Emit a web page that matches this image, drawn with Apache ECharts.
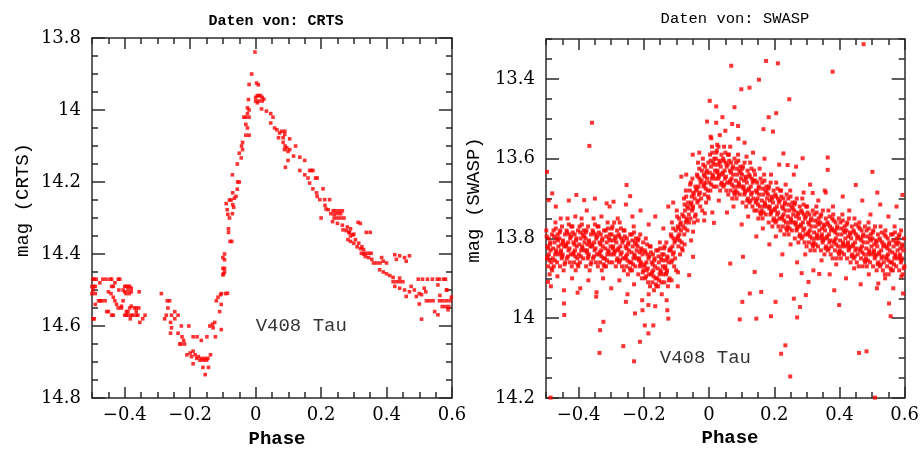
<!DOCTYPE html>
<html>
<head>
<meta charset="utf-8">
<script src="https://cdn.jsdelivr.net/npm/echarts@6/dist/echarts.min.js"></script>
<style>html,body{margin:0;padding:0;background:#fff}#c{width:922px;height:449px}</style>
</head>
<body>
<div id="c"></div>
<script>
// ---------- axis ticks ----------
const phaseMajor = [-0.4, -0.2, 0, 0.2, 0.4, 0.6];
const phaseRange = [-0.5, 0.6];
const crtsMagRange = [13.8, 14.8];
const crtsMagMajor = [13.8, 14, 14.2, 14.4, 14.6, 14.8];
const swaspMagRange = [13.3, 14.2];
const swaspMagMajor = [13.4, 13.6, 13.8, 14, 14.2];
const minorStep = 0.05;

// ---------- texts ----------
const titles = ['Daten von: CRTS', 'Daten von: SWASP'];
const yNames = ['mag (CRTS)', 'mag (SWASP)'];
const xName = 'Phase';
const starName = 'V408 Tau';
const crtsLabelPos = [[0, 14.6]];
const swaspLabelPos = [[-0.151, 14.1]];

// ---------- CRTS data [phase, mag] ----------
const crtsQuiescent = [
[-0.497,14.47],[-0.493,14.47],[-0.487,14.47],[-0.467,14.47],[-0.457,14.47],[-0.445,14.47],[-0.44,14.47],[-0.42,14.47],[-0.415,14.47],
[-0.476,14.48],[-0.43,14.48],
[-0.5,14.49],[-0.495,14.49],[-0.49,14.49],[-0.44,14.49],[-0.435,14.49],[-0.4,14.49],[-0.395,14.49],[-0.39,14.49],[-0.385,14.49],[-0.38,14.495],
[-0.497,14.5],[-0.45,14.505],[-0.418,14.5],[-0.405,14.5],[-0.4,14.505],[-0.39,14.5],[-0.38,14.505],[-0.356,14.505],
[-0.5,14.51],[-0.49,14.51],[-0.442,14.51],[-0.396,14.51],[-0.386,14.51],
[-0.435,14.52],
[-0.48,14.53],[-0.475,14.53],[-0.47,14.53],[-0.46,14.53],[-0.43,14.53],[-0.405,14.53],
[-0.49,14.54],[-0.425,14.54],[-0.41,14.545],
[-0.42,14.55],[-0.41,14.55],[-0.385,14.55],[-0.38,14.545],[-0.37,14.55],[-0.365,14.55],[-0.357,14.55],
[-0.455,14.56],[-0.45,14.56],[-0.395,14.56],[-0.39,14.56],[-0.365,14.56],
[-0.44,14.57],[-0.435,14.57],[-0.4,14.57],[-0.395,14.57],[-0.39,14.57],[-0.38,14.57],[-0.375,14.57],[-0.365,14.57],[-0.36,14.57],[-0.338,14.57],
[-0.497,14.58],[-0.493,14.58],[-0.383,14.58],[-0.354,14.59],[-0.345,14.58]
];
const crtsDip = [
[-0.288,14.51],[-0.27,14.53],[-0.263,14.53],[-0.268,14.55],[-0.247,14.56],[-0.257,14.57],[-0.273,14.57],[-0.278,14.58],[-0.26,14.59],[-0.247,14.58],
[-0.237,14.57],[-0.227,14.6],[-0.257,14.605],[-0.26,14.62],[-0.237,14.62],[-0.225,14.63],[-0.22,14.64],[-0.217,14.65],[-0.228,14.65],[-0.232,14.65],
[-0.204,14.6],[-0.191,14.63],[-0.179,14.63],[-0.166,14.64],[-0.149,14.63],[-0.123,14.63],
[-0.21,14.68],[-0.2,14.675],[-0.191,14.67],[-0.196,14.685],[-0.185,14.68],[-0.18,14.69],[-0.175,14.685],[-0.17,14.695],[-0.165,14.69],[-0.16,14.695],
[-0.155,14.69],[-0.15,14.695],[-0.146,14.69],[-0.138,14.68],[-0.191,14.705],[-0.161,14.715],[-0.144,14.715],[-0.154,14.735],
[-0.14,14.6],[-0.132,14.595],[-0.125,14.59],[-0.13,14.605],[-0.105,14.61],[-0.12,14.53],[-0.115,14.52],[-0.11,14.56],[-0.105,14.54],[-0.105,14.51],
[-0.092,14.51],[-0.1,14.44],[-0.098,14.455]
];
const crtsRise = [
[-0.107,14.513],[-0.086,14.509],[-0.1,14.458],[-0.095,14.45],[-0.095,14.44],[-0.095,14.416],[-0.1,14.41],[-0.095,14.4],[-0.078,14.365],[-0.073,14.365],
[-0.083,14.34],[-0.083,14.33],[-0.08,14.3],[-0.071,14.288],[-0.087,14.277],[-0.07,14.263],[-0.075,14.25],[-0.08,14.25],[-0.06,14.24],[-0.065,14.245],
[-0.085,14.29],[-0.09,14.26],[-0.07,14.23],[-0.067,14.27],
[-0.056,14.22],[-0.05,14.2],[-0.055,14.2],[-0.071,14.18],[-0.056,14.15],[-0.044,14.133],[-0.05,14.12],[-0.04,14.11],[-0.043,14.1],[-0.04,14.09],
[-0.03,14.07],[-0.02,14.07],[-0.025,14.05],[-0.03,14.04],[-0.036,14.02],[-0.03,14.02],[-0.02,14.02],[-0.025,14.01],[-0.02,14.0],[-0.025,13.994],
[-0.022,13.971],[-0.02,13.929],[-0.012,13.9],[-0.002,13.839],[0.003,13.925],[0.008,13.93],[0.0,13.965],[0.005,13.96],[0.01,13.96],[0.015,13.96],
[0.02,13.965],[0.0,13.975],[0.025,13.97],[0.005,13.98],[0.01,13.975],[0.02,13.975]
];
const crtsDecline = [
[0.018,13.997],[0.033,14.003],[0.046,14.01],[0.053,14.02],[0.046,14.036],[0.058,14.05],[0.065,14.055],[0.073,14.064],[0.079,14.059],[0.089,14.059],
[0.089,14.068],[0.07,14.077],[0.084,14.077],[0.104,14.08],[0.084,14.09],[0.09,14.1],[0.095,14.105],[0.099,14.115],[0.088,14.11],[0.122,14.1],
[0.104,14.11],[0.099,14.14],[0.116,14.128],[0.135,14.131],[0.15,14.14],[0.091,14.159],[0.135,14.168],[0.165,14.168],[0.17,14.168],[0.175,14.168],
[0.15,14.18],[0.16,14.189],[0.183,14.189],[0.188,14.189],[0.165,14.203],[0.175,14.219],[0.206,14.219],[0.186,14.23],[0.188,14.24],[0.196,14.249],
[0.211,14.249],[0.226,14.249],[0.212,14.265],[0.215,14.275],[0.222,14.277],[0.237,14.28],[0.245,14.28],[0.255,14.28],[0.265,14.28],[0.23,14.288],
[0.24,14.29],[0.25,14.288],[0.26,14.288],[0.24,14.3],[0.25,14.3],[0.26,14.3],[0.27,14.3],[0.2,14.3],[0.235,14.31],[0.25,14.315],
[0.265,14.32],[0.28,14.325],[0.29,14.33],[0.313,14.312],[0.32,14.315],[0.285,14.34],[0.3,14.345],[0.29,14.35],[0.305,14.36],[0.315,14.37],
[0.325,14.38],[0.33,14.4],
[0.267,14.333],[0.277,14.335],[0.287,14.34],[0.297,14.347],[0.338,14.34],[0.35,14.34],[0.282,14.36],[0.29,14.365],[0.3,14.37],[0.31,14.38],
[0.32,14.385],[0.33,14.388],[0.323,14.398],[0.335,14.398],[0.345,14.398],[0.353,14.398],[0.335,14.407],[0.345,14.41],[0.355,14.415],[0.36,14.425],
[0.37,14.425],[0.38,14.425],[0.39,14.42],[0.4,14.425],[0.385,14.41],[0.425,14.402],[0.44,14.405],[0.455,14.41],[0.47,14.405],[0.43,14.415],
[0.46,14.42],[0.379,14.444],[0.39,14.45],[0.4,14.455],[0.41,14.46],[0.42,14.465],[0.44,14.467],[0.42,14.477],[0.43,14.477],[0.44,14.477],
[0.45,14.477],[0.425,14.49],[0.44,14.495],[0.455,14.5],[0.47,14.505],[0.485,14.5],[0.5,14.51],[0.507,14.513],[0.475,14.49],[0.497,14.47],
[0.51,14.47],[0.525,14.47],[0.54,14.47],[0.555,14.47],[0.562,14.47],[0.575,14.47],[0.58,14.47],[0.557,14.486],[0.583,14.5],[0.46,14.518],
[0.491,14.518],[0.522,14.53],[0.532,14.53],[0.542,14.53],[0.562,14.53],[0.572,14.53],[0.583,14.53],[0.5,14.539],[0.57,14.546],[0.58,14.546],
[0.59,14.546],[0.547,14.56],[0.557,14.569],[0.507,14.581],[0.588,14.555],[0.594,14.53],[0.584,14.5],[0.563,14.515],[0.598,14.52],[0.515,14.495],
[0.52,14.505]
];

// ---------- SWASP data [phase, mag] ----------
const swaspCore = [
[-0.499,13.78],[-0.497,13.85],[-0.496,13.82],[-0.494,13.87],[-0.492,13.80],[-0.491,13.84],[-0.489,13.89],[-0.487,13.81],[-0.486,13.83],[-0.484,13.86],[-0.482,13.79],[-0.481,13.88],
[-0.479,13.85],[-0.477,13.78],[-0.476,13.87],[-0.474,13.81],[-0.472,13.84],[-0.471,13.76],[-0.469,13.83],[-0.467,13.80],[-0.466,13.86],[-0.464,13.79],[-0.462,13.82],[-0.461,13.84],
[-0.459,13.80],[-0.457,13.87],[-0.456,13.78],[-0.454,13.83],[-0.452,13.85],[-0.451,13.77],[-0.449,13.84],[-0.447,13.81],[-0.446,13.88],[-0.444,13.82],[-0.442,13.79],[-0.441,13.86],
[-0.439,13.82],[-0.437,13.78],[-0.436,13.85],[-0.434,13.75],[-0.432,13.81],[-0.431,13.83],[-0.429,13.79],[-0.427,13.86],[-0.426,13.80],[-0.424,13.84],[-0.422,13.77],[-0.421,13.87],
[-0.419,13.77],[-0.417,13.84],[-0.416,13.81],[-0.414,13.86],[-0.412,13.79],[-0.411,13.83],[-0.409,13.88],[-0.407,13.80],[-0.406,13.82],[-0.404,13.85],[-0.402,13.78],[-0.401,13.87],
[-0.399,13.84],[-0.397,13.77],[-0.396,13.86],[-0.394,13.80],[-0.392,13.83],[-0.391,13.75],[-0.389,13.82],[-0.387,13.79],[-0.386,13.85],[-0.384,13.78],[-0.382,13.81],[-0.381,13.83],
[-0.379,13.80],[-0.377,13.87],[-0.376,13.78],[-0.374,13.83],[-0.372,13.85],[-0.371,13.77],[-0.369,13.84],[-0.367,13.81],[-0.366,13.88],[-0.364,13.82],[-0.362,13.79],[-0.361,13.86],
[-0.359,13.82],[-0.357,13.78],[-0.356,13.85],[-0.354,13.75],[-0.352,13.81],[-0.351,13.83],[-0.349,13.79],[-0.347,13.86],[-0.346,13.80],[-0.344,13.84],[-0.342,13.77],[-0.341,13.87],
[-0.339,13.77],[-0.337,13.84],[-0.336,13.81],[-0.334,13.86],[-0.332,13.79],[-0.331,13.83],[-0.329,13.88],[-0.327,13.80],[-0.326,13.82],[-0.324,13.85],[-0.322,13.78],[-0.321,13.87],
[-0.319,13.85],[-0.317,13.78],[-0.316,13.87],[-0.314,13.81],[-0.312,13.84],[-0.311,13.76],[-0.309,13.83],[-0.307,13.80],[-0.306,13.86],[-0.304,13.79],[-0.302,13.82],[-0.301,13.84],
[-0.299,13.79],[-0.297,13.86],[-0.296,13.77],[-0.294,13.82],[-0.292,13.84],[-0.291,13.76],[-0.289,13.83],[-0.287,13.80],[-0.286,13.87],[-0.284,13.81],[-0.282,13.78],[-0.281,13.85],
[-0.279,13.83],[-0.277,13.79],[-0.276,13.86],[-0.274,13.76],[-0.272,13.82],[-0.271,13.84],[-0.269,13.80],[-0.267,13.87],[-0.266,13.81],[-0.264,13.85],[-0.262,13.78],[-0.261,13.88],
[-0.259,13.78],[-0.257,13.85],[-0.256,13.82],[-0.254,13.87],[-0.252,13.80],[-0.251,13.84],[-0.249,13.89],[-0.247,13.81],[-0.246,13.83],[-0.244,13.86],[-0.242,13.79],[-0.241,13.88],
[-0.239,13.86],[-0.237,13.79],[-0.236,13.88],[-0.234,13.82],[-0.232,13.85],[-0.231,13.77],[-0.229,13.84],[-0.227,13.81],[-0.226,13.87],[-0.224,13.80],[-0.222,13.83],[-0.221,13.85],
[-0.219,13.82],[-0.217,13.89],[-0.216,13.80],[-0.214,13.85],[-0.212,13.87],[-0.211,13.79],[-0.209,13.86],[-0.207,13.83],[-0.206,13.90],[-0.204,13.84],[-0.202,13.81],[-0.201,13.88],
[-0.199,13.87],[-0.197,13.83],[-0.196,13.90],[-0.194,13.80],[-0.192,13.86],[-0.191,13.88],[-0.189,13.84],[-0.187,13.91],[-0.186,13.85],[-0.184,13.89],[-0.182,13.82],[-0.181,13.92],
[-0.179,13.82],[-0.177,13.89],[-0.176,13.86],[-0.174,13.91],[-0.172,13.84],[-0.171,13.88],[-0.169,13.93],[-0.167,13.85],[-0.166,13.87],[-0.164,13.90],[-0.162,13.83],[-0.161,13.92],
[-0.159,13.90],[-0.157,13.83],[-0.156,13.92],[-0.154,13.86],[-0.152,13.89],[-0.151,13.81],[-0.149,13.88],[-0.147,13.85],[-0.146,13.91],[-0.144,13.84],[-0.142,13.87],[-0.141,13.89],
[-0.139,13.84],[-0.137,13.91],[-0.136,13.82],[-0.134,13.87],[-0.132,13.89],[-0.131,13.81],[-0.129,13.88],[-0.127,13.85],[-0.126,13.92],[-0.124,13.86],[-0.122,13.83],[-0.121,13.90],
[-0.119,13.83],[-0.117,13.79],[-0.116,13.86],[-0.114,13.76],[-0.112,13.82],[-0.111,13.84],[-0.109,13.80],[-0.107,13.87],[-0.106,13.81],[-0.104,13.85],[-0.102,13.78],[-0.101,13.88],
[-0.099,13.73],[-0.097,13.80],[-0.096,13.77],[-0.094,13.82],[-0.092,13.75],[-0.091,13.79],[-0.089,13.84],[-0.087,13.76],[-0.086,13.78],[-0.084,13.81],[-0.082,13.74],[-0.081,13.83],
[-0.079,13.77],[-0.077,13.70],[-0.076,13.79],[-0.074,13.73],[-0.072,13.76],[-0.071,13.68],[-0.069,13.75],[-0.067,13.72],[-0.066,13.78],[-0.064,13.71],[-0.062,13.74],[-0.061,13.76],
[-0.059,13.68],[-0.057,13.75],[-0.056,13.66],[-0.054,13.71],[-0.052,13.73],[-0.051,13.65],[-0.049,13.72],[-0.047,13.69],[-0.046,13.76],[-0.044,13.70],[-0.042,13.67],[-0.041,13.74],
[-0.039,13.68],[-0.037,13.64],[-0.036,13.71],[-0.034,13.61],[-0.032,13.67],[-0.031,13.69],[-0.029,13.65],[-0.027,13.72],[-0.026,13.66],[-0.024,13.70],[-0.022,13.63],[-0.021,13.73],
[-0.019,13.60],[-0.017,13.67],[-0.016,13.64],[-0.014,13.69],[-0.012,13.62],[-0.011,13.66],[-0.009,13.71],[-0.007,13.63],[-0.006,13.65],[-0.004,13.68],[-0.002,13.61],[-0.001,13.70],
[0.001,13.66],[0.003,13.59],[0.004,13.68],[0.006,13.62],[0.008,13.65],[0.009,13.57],[0.011,13.64],[0.013,13.61],[0.014,13.67],[0.016,13.60],[0.018,13.63],[0.019,13.65],
[0.021,13.60],[0.023,13.67],[0.024,13.58],[0.026,13.63],[0.028,13.65],[0.029,13.57],[0.031,13.64],[0.033,13.61],[0.034,13.68],[0.036,13.62],[0.038,13.59],[0.039,13.66],
[0.041,13.64],[0.043,13.60],[0.044,13.67],[0.046,13.57],[0.048,13.63],[0.049,13.65],[0.051,13.61],[0.053,13.68],[0.054,13.62],[0.056,13.66],[0.058,13.59],[0.059,13.69],
[0.061,13.59],[0.063,13.66],[0.064,13.63],[0.066,13.68],[0.068,13.61],[0.069,13.65],[0.071,13.70],[0.073,13.62],[0.074,13.64],[0.076,13.67],[0.078,13.60],[0.079,13.69],
[0.081,13.68],[0.083,13.61],[0.084,13.70],[0.086,13.64],[0.088,13.67],[0.089,13.59],[0.091,13.66],[0.093,13.63],[0.094,13.69],[0.096,13.62],[0.098,13.65],[0.099,13.67],
[0.101,13.64],[0.103,13.71],[0.104,13.62],[0.106,13.67],[0.108,13.69],[0.109,13.61],[0.111,13.68],[0.113,13.65],[0.114,13.72],[0.116,13.66],[0.118,13.63],[0.119,13.70],
[0.121,13.68],[0.123,13.64],[0.124,13.71],[0.126,13.61],[0.128,13.67],[0.129,13.69],[0.131,13.65],[0.133,13.72],[0.134,13.66],[0.136,13.70],[0.138,13.63],[0.139,13.73],
[0.141,13.64],[0.143,13.71],[0.144,13.68],[0.146,13.73],[0.148,13.66],[0.149,13.70],[0.151,13.75],[0.153,13.67],[0.154,13.69],[0.156,13.72],[0.158,13.65],[0.159,13.74],
[0.161,13.73],[0.163,13.66],[0.164,13.75],[0.166,13.69],[0.168,13.72],[0.169,13.64],[0.171,13.71],[0.173,13.68],[0.174,13.74],[0.176,13.67],[0.178,13.70],[0.179,13.72],
[0.181,13.69],[0.183,13.76],[0.184,13.67],[0.186,13.72],[0.188,13.74],[0.189,13.66],[0.191,13.73],[0.193,13.70],[0.194,13.77],[0.196,13.71],[0.198,13.68],[0.199,13.75],
[0.201,13.73],[0.203,13.69],[0.204,13.76],[0.206,13.66],[0.208,13.72],[0.209,13.74],[0.211,13.70],[0.213,13.77],[0.214,13.71],[0.216,13.75],[0.218,13.68],[0.219,13.78],
[0.221,13.68],[0.223,13.75],[0.224,13.72],[0.226,13.77],[0.228,13.70],[0.229,13.74],[0.231,13.79],[0.233,13.71],[0.234,13.73],[0.236,13.76],[0.238,13.69],[0.239,13.78],
[0.241,13.77],[0.243,13.70],[0.244,13.79],[0.246,13.73],[0.248,13.76],[0.249,13.68],[0.251,13.75],[0.253,13.72],[0.254,13.78],[0.256,13.71],[0.258,13.74],[0.259,13.76],
[0.261,13.73],[0.263,13.80],[0.264,13.71],[0.266,13.76],[0.268,13.78],[0.269,13.70],[0.271,13.77],[0.273,13.74],[0.274,13.81],[0.276,13.75],[0.278,13.72],[0.279,13.79],
[0.281,13.77],[0.283,13.73],[0.284,13.80],[0.286,13.70],[0.288,13.76],[0.289,13.78],[0.291,13.74],[0.293,13.81],[0.294,13.75],[0.296,13.79],[0.298,13.72],[0.299,13.82],
[0.301,13.72],[0.303,13.79],[0.304,13.76],[0.306,13.81],[0.308,13.74],[0.309,13.78],[0.311,13.83],[0.313,13.75],[0.314,13.77],[0.316,13.80],[0.318,13.73],[0.319,13.82],
[0.321,13.81],[0.323,13.74],[0.324,13.83],[0.326,13.77],[0.328,13.80],[0.329,13.72],[0.331,13.79],[0.333,13.76],[0.334,13.82],[0.336,13.75],[0.338,13.78],[0.339,13.80],
[0.341,13.76],[0.343,13.83],[0.344,13.74],[0.346,13.79],[0.348,13.81],[0.349,13.73],[0.351,13.80],[0.353,13.77],[0.354,13.84],[0.356,13.78],[0.358,13.75],[0.359,13.82],
[0.361,13.80],[0.363,13.76],[0.364,13.83],[0.366,13.73],[0.368,13.79],[0.369,13.81],[0.371,13.77],[0.373,13.84],[0.374,13.78],[0.376,13.82],[0.378,13.75],[0.379,13.85],
[0.381,13.74],[0.383,13.81],[0.384,13.78],[0.386,13.83],[0.388,13.76],[0.389,13.80],[0.391,13.85],[0.393,13.77],[0.394,13.79],[0.396,13.82],[0.398,13.75],[0.399,13.84],
[0.401,13.83],[0.403,13.76],[0.404,13.85],[0.406,13.79],[0.408,13.82],[0.409,13.74],[0.411,13.81],[0.413,13.78],[0.414,13.84],[0.416,13.77],[0.418,13.80],[0.419,13.82],
[0.421,13.78],[0.423,13.85],[0.424,13.76],[0.426,13.81],[0.428,13.83],[0.429,13.75],[0.431,13.82],[0.433,13.79],[0.434,13.86],[0.436,13.80],[0.438,13.77],[0.439,13.84],
[0.441,13.82],[0.443,13.78],[0.444,13.85],[0.446,13.75],[0.448,13.81],[0.449,13.83],[0.451,13.79],[0.453,13.86],[0.454,13.80],[0.456,13.84],[0.458,13.77],[0.459,13.87],
[0.461,13.76],[0.463,13.83],[0.464,13.80],[0.466,13.85],[0.468,13.78],[0.469,13.82],[0.471,13.87],[0.473,13.79],[0.474,13.81],[0.476,13.84],[0.478,13.77],[0.479,13.86],
[0.481,13.85],[0.483,13.78],[0.484,13.87],[0.486,13.81],[0.488,13.84],[0.489,13.76],[0.491,13.83],[0.493,13.80],[0.494,13.86],[0.496,13.79],[0.498,13.82],[0.499,13.84],
[0.501,13.80],[0.503,13.87],[0.504,13.78],[0.506,13.83],[0.508,13.85],[0.509,13.77],[0.511,13.84],[0.513,13.81],[0.514,13.88],[0.516,13.82],[0.518,13.79],[0.519,13.86],
[0.521,13.84],[0.523,13.80],[0.524,13.87],[0.526,13.77],[0.528,13.83],[0.529,13.85],[0.531,13.81],[0.533,13.88],[0.534,13.82],[0.536,13.86],[0.538,13.79],[0.539,13.89],
[0.541,13.78],[0.543,13.85],[0.544,13.82],[0.546,13.87],[0.548,13.80],[0.549,13.84],[0.551,13.89],[0.553,13.81],[0.554,13.83],[0.556,13.86],[0.558,13.79],[0.559,13.88],
[0.561,13.86],[0.563,13.79],[0.564,13.88],[0.566,13.82],[0.568,13.85],[0.569,13.77],[0.571,13.84],[0.573,13.81],[0.574,13.87],[0.576,13.80],[0.578,13.83],[0.579,13.85],
[0.581,13.81],[0.583,13.88],[0.584,13.79],[0.586,13.84],[0.588,13.86],[0.589,13.78],[0.591,13.85],[0.593,13.82],[0.594,13.89],[0.596,13.83],[0.598,13.80],[0.599,13.87]
];
const swaspFill = [
[-0.498,13.795],[-0.495,13.845],[-0.493,13.825],[-0.49,13.855],[-0.488,13.815],[-0.483,13.875],
[-0.478,13.825],[-0.475,13.795],[-0.473,13.855],[-0.47,13.775],[-0.468,13.835],[-0.463,13.805],
[-0.458,13.785],[-0.455,13.835],[-0.453,13.815],[-0.45,13.845],[-0.448,13.805],[-0.443,13.865],
[-0.438,13.815],[-0.435,13.785],[-0.433,13.845],[-0.43,13.765],[-0.428,13.825],[-0.423,13.795],
[-0.418,13.785],[-0.415,13.835],[-0.413,13.815],[-0.41,13.845],[-0.408,13.805],[-0.403,13.865],
[-0.398,13.815],[-0.395,13.785],[-0.393,13.845],[-0.39,13.765],[-0.388,13.825],[-0.383,13.795],
[-0.378,13.785],[-0.375,13.835],[-0.373,13.815],[-0.37,13.845],[-0.368,13.805],[-0.363,13.865],
[-0.358,13.815],[-0.355,13.785],[-0.353,13.845],[-0.35,13.765],[-0.348,13.825],[-0.343,13.795],
[-0.338,13.785],[-0.335,13.835],[-0.333,13.815],[-0.33,13.845],[-0.328,13.805],[-0.323,13.865],
[-0.318,13.825],[-0.315,13.795],[-0.313,13.855],[-0.31,13.775],[-0.308,13.835],[-0.303,13.805],
[-0.298,13.775],[-0.295,13.825],[-0.293,13.805],[-0.29,13.835],[-0.288,13.795],[-0.283,13.855],
[-0.278,13.825],[-0.275,13.795],[-0.273,13.855],[-0.27,13.775],[-0.268,13.835],[-0.263,13.805],
[-0.258,13.795],[-0.255,13.845],[-0.253,13.825],[-0.25,13.855],[-0.248,13.815],[-0.243,13.875],
[-0.238,13.835],[-0.235,13.805],[-0.233,13.865],[-0.23,13.785],[-0.228,13.845],[-0.223,13.815],
[-0.218,13.805],[-0.215,13.855],[-0.213,13.835],[-0.21,13.865],[-0.208,13.825],[-0.203,13.885],
[-0.198,13.865],[-0.195,13.835],[-0.193,13.895],[-0.19,13.815],[-0.188,13.875],[-0.183,13.845],
[-0.178,13.835],[-0.175,13.885],[-0.173,13.865],[-0.17,13.895],[-0.168,13.855],[-0.163,13.915],
[-0.158,13.875],[-0.155,13.845],[-0.153,13.905],[-0.15,13.825],[-0.148,13.885],[-0.143,13.855],
[-0.138,13.825],[-0.135,13.875],[-0.133,13.855],[-0.13,13.885],[-0.128,13.845],[-0.123,13.905],
[-0.118,13.825],[-0.115,13.795],[-0.113,13.855],[-0.11,13.775],[-0.108,13.835],[-0.103,13.805],
[-0.098,13.745],[-0.095,13.795],[-0.093,13.775],[-0.09,13.805],[-0.088,13.765],[-0.083,13.825],
[-0.078,13.745],[-0.075,13.715],[-0.073,13.775],[-0.07,13.695],[-0.068,13.755],[-0.063,13.725],
[-0.058,13.665],[-0.055,13.715],[-0.053,13.695],[-0.05,13.725],[-0.048,13.685],[-0.043,13.745],
[-0.038,13.675],[-0.035,13.645],[-0.033,13.705],[-0.03,13.625],[-0.028,13.685],[-0.023,13.655],
[-0.018,13.615],[-0.015,13.665],[-0.013,13.645],[-0.01,13.675],[-0.008,13.635],[-0.003,13.695],
[0.002,13.635],[0.005,13.605],[0.007,13.665],[0.01,13.585],[0.012,13.645],[0.017,13.615],
[0.022,13.585],[0.025,13.635],[0.027,13.615],[0.03,13.645],[0.032,13.605],[0.037,13.665],
[0.042,13.635],[0.045,13.605],[0.047,13.665],[0.05,13.585],[0.052,13.645],[0.057,13.615],
[0.062,13.605],[0.065,13.655],[0.067,13.635],[0.07,13.665],[0.072,13.625],[0.077,13.685],
[0.082,13.655],[0.085,13.625],[0.087,13.685],[0.09,13.605],[0.092,13.665],[0.097,13.635],
[0.102,13.625],[0.105,13.675],[0.107,13.655],[0.11,13.685],[0.112,13.645],[0.117,13.705],
[0.122,13.675],[0.125,13.645],[0.127,13.705],[0.13,13.625],[0.132,13.685],[0.137,13.655],
[0.142,13.655],[0.145,13.705],[0.147,13.685],[0.15,13.715],[0.152,13.675],[0.157,13.735],
[0.162,13.705],[0.165,13.675],[0.167,13.735],[0.17,13.655],[0.172,13.715],[0.177,13.685],
[0.182,13.675],[0.185,13.725],[0.187,13.705],[0.19,13.735],[0.192,13.695],[0.197,13.755],
[0.202,13.725],[0.205,13.695],[0.207,13.755],[0.21,13.675],[0.212,13.735],[0.217,13.705],
[0.222,13.695],[0.225,13.745],[0.227,13.725],[0.23,13.755],[0.232,13.715],[0.237,13.775],
[0.242,13.745],[0.245,13.715],[0.247,13.775],[0.25,13.695],[0.252,13.755],[0.257,13.725],
[0.262,13.715],[0.265,13.765],[0.267,13.745],[0.27,13.775],[0.272,13.735],[0.277,13.795],
[0.282,13.765],[0.285,13.735],[0.287,13.795],[0.29,13.715],[0.292,13.775],[0.297,13.745],
[0.302,13.735],[0.305,13.785],[0.307,13.765],[0.31,13.795],[0.312,13.755],[0.317,13.815],
[0.322,13.785],[0.325,13.755],[0.327,13.815],[0.33,13.735],[0.332,13.795],[0.337,13.765],
[0.342,13.745],[0.345,13.795],[0.347,13.775],[0.35,13.805],[0.352,13.765],[0.357,13.825],
[0.362,13.795],[0.365,13.765],[0.367,13.825],[0.37,13.745],[0.372,13.805],[0.377,13.775],
[0.382,13.755],[0.385,13.805],[0.387,13.785],[0.39,13.815],[0.392,13.775],[0.397,13.835],
[0.402,13.805],[0.405,13.775],[0.407,13.835],[0.41,13.755],[0.412,13.815],[0.417,13.785],
[0.422,13.765],[0.425,13.815],[0.427,13.795],[0.43,13.825],[0.432,13.785],[0.437,13.845],
[0.442,13.815],[0.445,13.785],[0.447,13.845],[0.45,13.765],[0.452,13.825],[0.457,13.795],
[0.462,13.775],[0.465,13.825],[0.467,13.805],[0.47,13.835],[0.472,13.795],[0.477,13.855],
[0.482,13.825],[0.485,13.795],[0.487,13.855],[0.49,13.775],[0.492,13.835],[0.497,13.805],
[0.502,13.785],[0.505,13.835],[0.507,13.815],[0.51,13.845],[0.512,13.805],[0.517,13.865],
[0.522,13.835],[0.525,13.805],[0.527,13.865],[0.53,13.785],[0.532,13.845],[0.537,13.815],
[0.542,13.795],[0.545,13.845],[0.547,13.825],[0.55,13.855],[0.552,13.815],[0.557,13.875],
[0.562,13.835],[0.565,13.805],[0.567,13.865],[0.57,13.785],[0.572,13.845],[0.577,13.815],
[0.582,13.795],[0.585,13.845],[0.587,13.825],[0.59,13.855],[0.592,13.815],[0.597,13.875]
];
const swaspHalo = [
[-0.47,13.72],[-0.455,13.75],[-0.43,13.705],[-0.41,13.745],[-0.375,13.73],[-0.35,13.70],[-0.33,13.745],[-0.305,13.72],[-0.28,13.75],[-0.255,13.715],
[-0.235,13.745],[-0.21,13.73],[-0.185,13.765],[-0.165,13.745],[-0.14,13.775],[-0.125,13.72],[-0.11,13.71],[-0.085,13.645],[-0.07,13.64],[-0.05,13.59],
[-0.03,13.585],[0.005,13.545],[0.025,13.565],[0.05,13.53],[0.065,13.57],[0.09,13.55],[0.115,13.595],[0.135,13.585],[0.155,13.625],[0.17,13.60],
[0.19,13.64],[0.215,13.615],[0.235,13.665],[0.26,13.64],[0.29,13.685],[0.31,13.665],[0.335,13.705],[0.355,13.68],[0.38,13.72],[0.41,13.695],
[0.43,13.73],[0.47,13.705],[0.495,13.74],[0.525,13.715],[0.55,13.745],[0.575,13.72],
[-0.485,13.92],[-0.465,13.895],[-0.445,13.93],[-0.42,13.9],[-0.395,13.925],[-0.37,13.905],[-0.345,13.935],[-0.325,13.9],[-0.3,13.925],[-0.275,13.905],
[-0.25,13.94],[-0.23,13.915],[-0.205,13.955],[-0.185,13.94],[-0.165,13.97],[-0.145,13.94],[-0.13,13.955],[-0.115,13.905],[-0.095,13.885],[-0.075,13.815],
[-0.055,13.805],[-0.035,13.755],[-0.015,13.755],[0.01,13.735],[0.03,13.705],[0.055,13.735],[0.075,13.72],[0.1,13.765],[0.12,13.745],[0.145,13.795],
[0.165,13.775],[0.185,13.815],[0.205,13.795],[0.225,13.84],[0.25,13.815],[0.27,13.86],[0.295,13.84],[0.32,13.88],[0.345,13.855],[0.37,13.89],
[0.39,13.865],[0.42,13.9],[0.445,13.875],[0.465,13.915],[0.49,13.89],[0.515,13.925],[0.54,13.9],[0.565,13.925],[0.59,13.895]
];
const swaspOutliers = [
[0.474,13.313],[0.175,13.355],[0.211,13.361],[0.068,13.367],[0.379,13.382],[0.153,13.402],[0.124,13.422],[0.099,13.426],[0.246,13.451],[0.002,13.455],
[0.022,13.469],[0.078,13.471],[0.206,13.486],[0.183,13.496],[0.041,13.496],[-0.006,13.507],[0.022,13.51],[0.071,13.513],[0.089,13.518],[0.167,13.526],
[0.196,13.532],[-0.359,13.51],[-0.367,13.568],[0.007,13.549],[0.033,13.541],[0.109,13.56],[0.228,13.587],[0.287,13.599],[0.364,13.597],[0.364,13.628],
[0.501,13.633],[0.241,13.616],[0.267,13.62],[-0.253,13.666],[-0.242,13.694],[-0.407,13.691],[-0.383,13.704],[-0.314,13.712],[-0.293,13.708],[0.45,13.666],
[0.516,13.685],[0.593,13.691],[0.358,13.685],[0.318,13.686],[-0.497,13.633],[-0.492,13.704],[-0.481,13.687],
[-0.494,13.909],[-0.445,13.963],[-0.444,13.992],[-0.334,14.03],[-0.324,14.009],[-0.336,14.087],[-0.263,14.07],[-0.23,14.108],[-0.212,14.059],[-0.227,13.988],
[-0.204,13.98],[-0.197,14.018],[-0.186,14.038],[-0.186,13.967],[-0.171,14.018],[-0.125,14.001],[-0.128,13.98],[-0.255,13.959],[-0.346,13.946],[-0.403,13.936],
[-0.049,13.846],[-0.061,13.892],[-0.049,13.783],[-0.013,13.737],[0.015,13.761],[0.065,13.863],[0.104,13.846],[0.14,13.884],[0.125,13.938],[0.102,13.959],
[0.094,14.003],[0.145,14.001],[0.16,13.934],[0.19,13.995],[0.204,13.959],[0.221,13.892],[0.221,14.089],[0.234,14.068],[0.249,14.146],[0.26,13.951],
[0.27,13.998],[0.279,13.972],[0.297,13.942],[0.305,13.909],[0.284,13.887],[0.338,13.889],[0.399,13.967],[0.384,13.93],[0.46,14.087],[0.483,14.083],
[0.509,14.199],[-0.486,14.199],[0.552,13.963],[0.557,13.995],[0.595,13.938],[0.519,13.913],[-0.096,13.92]
];

// ---------- build ----------
const MARK_COLOR = '#ff0000';
const FRAME = '#2a2a2a';
const tickFont = 'DejaVu Serif';
const monoFont = 'Liberation Mono';

function minorValues(lo, hi) {
  const out = [];
  const n = Math.round((hi - lo) / minorStep);
  for (let i = 0; i <= n; i++) out.push(+(lo + i * minorStep).toFixed(3));
  return out;
}
function fmt(v) {
  const s = String(+v.toFixed(2));
  return s.charAt(0) === '-' ? '\u2212' + s.slice(1) : s;
}
const lineStyle = { color: FRAME, width: 1.5 };

function axisSet(dim, grid, range, major, inverse) {
  const minor = minorValues(range[0], range[1]);
  const sides = dim === 'x' ? ['bottom', 'top'] : ['left', 'right'];
  const out = [];
  sides.forEach((side, si) => {
    out.push({
      type: 'value', gridIndex: grid, position: side, min: range[0], max: range[1], inverse: !!inverse,
      axisLine: { show: true, onZero: false, lineStyle },
      axisTick: { show: true, inside: true, length: dim === 'x' ? 11 : 13, customValues: major, lineStyle },
      axisLabel: si === 0 ? {
        show: true, customValues: major, formatter: fmt, color: '#000',
        fontFamily: tickFont, fontSize: 18, margin: dim === 'x' ? 8 : 11
      } : { show: false },
      splitLine: { show: false }
    });
    out.push({
      type: 'value', gridIndex: grid, position: side, min: range[0], max: range[1], inverse: !!inverse,
      axisLine: { show: false, onZero: false },
      axisTick: { show: true, inside: true, length: 6, customValues: minor, lineStyle },
      axisLabel: { show: false },
      splitLine: { show: false }
    });
  });
  return out;
}

const xAxes = [].concat(axisSet('x', 0, phaseRange, phaseMajor), axisSet('x', 1, phaseRange, phaseMajor));
const yAxes = [].concat(axisSet('y', 0, crtsMagRange, crtsMagMajor, true), axisSet('y', 1, swaspMagRange, swaspMagMajor, true));

const crtsData = [].concat(crtsQuiescent, crtsDip, crtsRise, crtsDecline);
const swaspData = [].concat(swaspCore, swaspFill, swaspHalo, swaspOutliers);

const scatterBase = { type: 'scatter', symbol: 'rect', itemStyle: { color: MARK_COLOR }, silent: true, large: false };
const textLabel = {
  show: true, formatter: starName, position: 'inside', align: 'left', verticalAlign: 'middle',
  color: '#000', fontFamily: monoFont, fontSize: 19
};

const option = {
  animation: false,
  backgroundColor: '#fff',
  grid: [
    { left: 92, top: 38, width: 360, height: 360 },
    { left: 546, top: 39, width: 360, height: 359 }
  ],
  xAxis: xAxes,
  yAxis: yAxes,
  series: [
    Object.assign({}, scatterBase, { xAxisIndex: 0, yAxisIndex: 0, symbolSize: 3.6, data: crtsData }),
    Object.assign({}, scatterBase, { xAxisIndex: 4, yAxisIndex: 4, symbolSize: 4, data: swaspData }),
    { type: 'scatter', xAxisIndex: 0, yAxisIndex: 0, symbolSize: 0, data: crtsLabelPos, label: textLabel, silent: true },
    { type: 'scatter', xAxisIndex: 4, yAxisIndex: 4, symbolSize: 0, data: swaspLabelPos, label: textLabel, silent: true }
  ],
  graphic: [
    { type: 'text', x: 276, y: 21, style: { text: titles[0], fontFamily: monoFont, fontWeight: 'bold', fontSize: 15, fill: '#000', align: 'center', verticalAlign: 'middle' } },
    { type: 'text', x: 735, y: 19, style: { text: titles[1], fontFamily: monoFont, fontSize: 15.5, fill: '#000', align: 'center', verticalAlign: 'middle' } },
    { type: 'text', x: 277, y: 439, style: { text: xName, fontFamily: monoFont, fontWeight: 'bold', fontSize: 19, fill: '#000', align: 'center', verticalAlign: 'middle' } },
    { type: 'text', x: 730, y: 438, style: { text: xName, fontFamily: monoFont, fontWeight: 'bold', fontSize: 19, fill: '#000', align: 'center', verticalAlign: 'middle' } },
    { type: 'text', x: 23, y: 200, rotation: Math.PI / 2, style: { text: yNames[0], fontFamily: monoFont, fontSize: 19, fill: '#000', align: 'center', verticalAlign: 'middle' } },
    { type: 'text', x: 474, y: 200, rotation: Math.PI / 2, style: { text: yNames[1], fontFamily: monoFont, fontSize: 19, fill: '#000', align: 'center', verticalAlign: 'middle' } }
  ]
};

const chart = echarts.init(document.getElementById('c'), null, { renderer: 'canvas' });
chart.setOption(option);
</script>
</body>
</html>
